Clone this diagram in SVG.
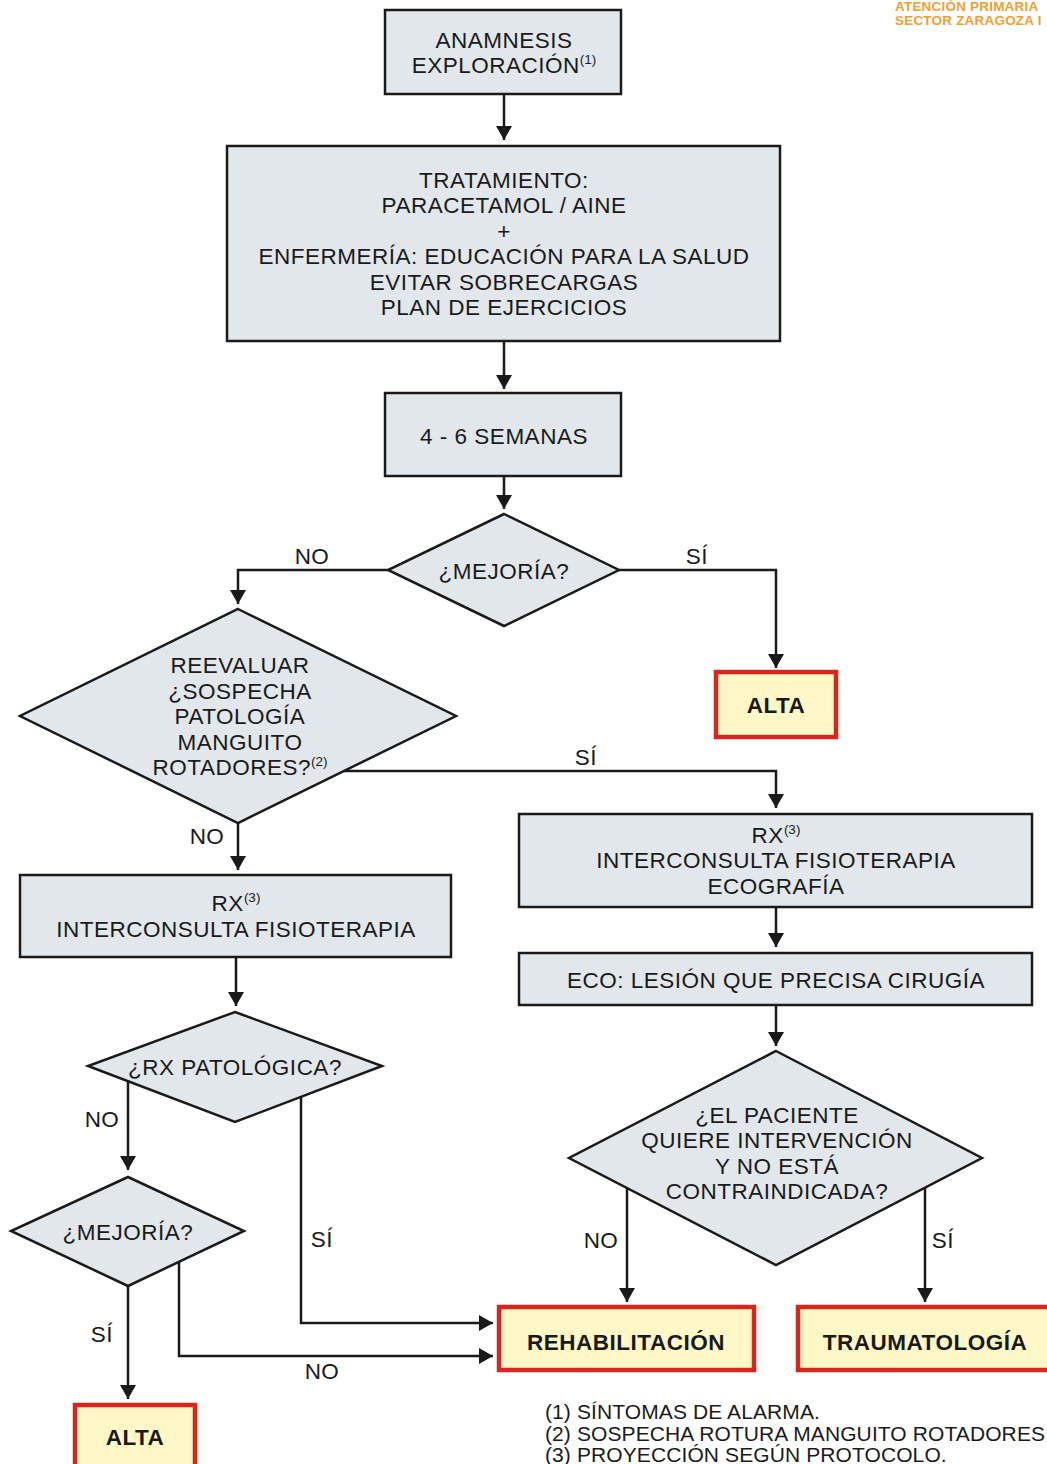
<svg xmlns="http://www.w3.org/2000/svg" width="1047" height="1464" viewBox="0 0 1047 1464">
<defs>
<style>
.box{fill:#e1e7ea;stroke:#1a1a1a;stroke-width:2.5}
.end{fill:#fdf8c6;stroke:#d9251d;stroke-width:4.5}
.t{font-family:"Liberation Sans",Arial,sans-serif;font-size:22.5px;letter-spacing:0.5px;fill:#1a1a1a;text-anchor:middle}
.b{font-weight:bold}
.lbl{font-family:"Liberation Sans",Arial,sans-serif;font-size:22.5px;letter-spacing:0.5px;fill:#1a1a1a;text-anchor:middle}
.sup{font-size:13.5px;letter-spacing:0}
.c{fill:none;stroke:#1a1a1a;stroke-width:2.5}
.hdr{font-family:"Liberation Sans",Arial,sans-serif;font-size:13.5px;letter-spacing:0.2px;font-weight:bold;fill:#f0a032}
.fn{font-family:"Liberation Sans",Arial,sans-serif;font-size:21px;letter-spacing:0.1px;fill:#1a1a1a}
</style>
<marker id="ah" markerWidth="14" markerHeight="16" refX="14" refY="8" orient="auto" markerUnits="userSpaceOnUse">
<path d="M0,0 L14,8 L0,16 Z" fill="#1a1a1a"/>
</marker>
</defs>
<rect width="1047" height="1464" fill="#ffffff"/>
<text class="hdr" x="895" y="11">ATENCIÓN PRIMARIA</text>
<text class="hdr" x="895" y="25">SECTOR ZARAGOZA I</text>

<g id="connectors">
<path class="c" marker-end="url(#ah)" d="M504,94 V140"/>
<path class="c" marker-end="url(#ah)" d="M504,341 V389"/>
<path class="c" marker-end="url(#ah)" d="M504,476 V509"/>
<path class="c" marker-end="url(#ah)" d="M388,570 H238 V604"/>
<path class="c" marker-end="url(#ah)" d="M619,570 H776 V668"/>
<path class="c" marker-end="url(#ah)" d="M344,771 H776 V808"/>
<path class="c" marker-end="url(#ah)" d="M238,823 V870"/>
<path class="c" marker-end="url(#ah)" d="M776,907 V947"/>
<path class="c" marker-end="url(#ah)" d="M776,1005 V1046"/>
<path class="c" marker-end="url(#ah)" d="M236,957 V1006"/>
<path class="c" marker-end="url(#ah)" d="M128,1081 V1170"/>
<path class="c" marker-end="url(#ah)" d="M301,1097 V1323 H493"/>
<path class="c" marker-end="url(#ah)" d="M128,1286 V1399"/>
<path class="c" marker-end="url(#ah)" d="M179,1262 V1356 H493"/>
<path class="c" marker-end="url(#ah)" d="M627,1188 V1302"/>
<path class="c" marker-end="url(#ah)" d="M925,1188 V1302"/>
<text class="lbl" x="312" y="564">NO</text>
<text class="lbl" x="697" y="564">SÍ</text>
<text class="lbl" x="586" y="765">SÍ</text>
<text class="lbl" x="207" y="844">NO</text>
<text class="lbl" x="102" y="1127">NO</text>
<text class="lbl" x="322" y="1247">SÍ</text>
<text class="lbl" x="102" y="1342">SÍ</text>
<text class="lbl" x="322" y="1379">NO</text>
<text class="lbl" x="601" y="1248">NO</text>
<text class="lbl" x="943" y="1248">SÍ</text>
</g>

<g id="n1">
<rect class="box" x="385" y="10" width="236" height="84"/>
<text class="t" x="504" y="48">ANAMNESIS</text>
<text class="t" x="504" y="73">EXPLORACIÓN<tspan class="sup" dy="-9">(1)</tspan></text>
</g>
<g id="n2">
<rect class="box" x="227" y="146" width="553" height="195"/>
<text class="t" x="504" y="188">TRATAMIENTO:</text>
<text class="t" x="504" y="213">PARACETAMOL / AINE</text>
<text class="t" x="504" y="239">+</text>
<text class="t" x="504" y="264">ENFERMERÍA: EDUCACIÓN PARA LA SALUD</text>
<text class="t" x="504" y="290">EVITAR SOBRECARGAS</text>
<text class="t" x="504" y="315">PLAN DE EJERCICIOS</text>
</g>
<g id="n3">
<rect class="box" x="385" y="393" width="236" height="83"/>
<text class="t" x="504" y="444">4 - 6 SEMANAS</text>
</g>
<g id="d1">
<polygon class="box" points="504,514 619,570 504,626 388,570"/>
<text class="t" x="504" y="579">¿MEJORÍA?</text>
</g>
<g id="alta1">
<rect class="end" x="716" y="672" width="120" height="65"/>
<text class="t b" x="776" y="713">ALTA</text>
</g>
<g id="d2">
<polygon class="box" points="238,609 456,716 238,823 20,716"/>
<text class="t" x="240" y="673">REEVALUAR</text>
<text class="t" x="240" y="699">¿SOSPECHA</text>
<text class="t" x="240" y="724">PATOLOGÍA</text>
<text class="t" x="240" y="750">MANGUITO</text>
<text class="t" x="240" y="775">ROTADORES?<tspan class="sup" dy="-9">(2)</tspan></text>
</g>
<g id="rxL">
<rect class="box" x="20" y="875" width="431" height="82"/>
<text class="t" x="236" y="911">RX<tspan class="sup" dy="-9">(3)</tspan></text>
<text class="t" x="236" y="937">INTERCONSULTA FISIOTERAPIA</text>
</g>
<g id="rxR">
<rect class="box" x="519" y="814" width="513" height="93"/>
<text class="t" x="776" y="843">RX<tspan class="sup" dy="-9">(3)</tspan></text>
<text class="t" x="776" y="868">INTERCONSULTA FISIOTERAPIA</text>
<text class="t" x="776" y="894">ECOGRAFÍA</text>
</g>
<g id="eco">
<rect class="box" x="519" y="953" width="513" height="52"/>
<text class="t" x="776" y="988">ECO: LESIÓN QUE PRECISA CIRUGÍA</text>
</g>
<g id="d3">
<polygon class="box" points="776,1051 982,1158 776,1265 569,1158"/>
<text class="t" x="777" y="1123">¿EL PACIENTE</text>
<text class="t" x="777" y="1148">QUIERE INTERVENCIÓN</text>
<text class="t" x="777" y="1174">Y NO ESTÁ</text>
<text class="t" x="777" y="1199">CONTRAINDICADA?</text>
</g>
<g id="d4">
<polygon class="box" points="235,1012 382,1066 235,1122 88,1066"/>
<text class="t" x="235" y="1075">¿RX PATOLÓGICA?</text>
</g>
<g id="d5">
<polygon class="box" points="128,1177 244,1231 128,1286 11,1231"/>
<text class="t" x="128" y="1240">¿MEJORÍA?</text>
</g>
<g id="rehab">
<rect class="end" x="499" y="1307" width="255" height="63"/>
<text class="t b" x="626" y="1350">REHABILITACIÓN</text>
</g>
<g id="trauma">
<rect class="end" x="798" y="1307" width="255" height="63"/>
<text class="t b" x="925" y="1350">TRAUMATOLOGÍA</text>
</g>
<g id="alta2">
<rect class="end" x="75" y="1405" width="120" height="70"/>
<text class="t b" x="135" y="1445">ALTA</text>
</g>
<g id="notes">
<text class="fn" x="545" y="1419">(1) SÍNTOMAS DE ALARMA.</text>
<text class="fn" x="545" y="1441">(2) SOSPECHA ROTURA MANGUITO ROTADORES</text>
<text class="fn" x="545" y="1462">(3) PROYECCIÓN SEGÚN PROTOCOLO.</text>
</g>
</svg>
